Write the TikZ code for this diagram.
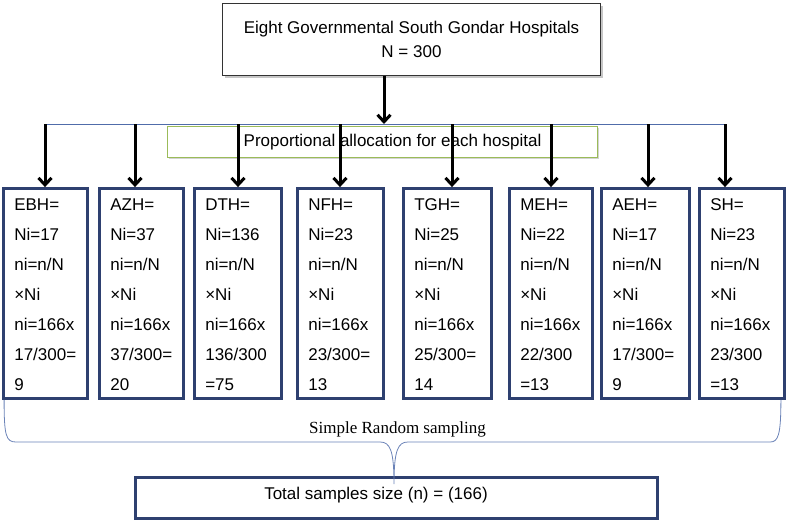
\documentclass[tikz,border=0pt]{standalone}
\usepackage{fontspec}
\setmainfont{Liberation Sans}
\newfontfamily\timesfont{Liberation Serif}
\usepackage{tikz}
\usetikzlibrary{arrows.meta,positioning,shadows}
\definecolor{boxnavy}{RGB}{46,64,112}
\definecolor{barblue}{RGB}{80,108,170}
\definecolor{leafgreen}{RGB}{155,187,89}

\begin{document}
\begin{tikzpicture}[x=1pt, y=-1pt, font=\fontsize{17}{20}\selectfont]
\tikzset{
  head/.style  ={draw=black!80, fill=white, line width=0.8pt, align=center,
                 minimum width=378pt, minimum height=72pt, font=\fontsize{17}{24}\selectfont,
                 drop shadow={shadow xshift=2pt, shadow yshift=-2pt, opacity=.45}},
  alloc/.style ={draw=leafgreen, fill=white, line width=1pt,
                 minimum width=430pt, minimum height=31pt,
                 drop shadow={shadow xshift=1.5pt, shadow yshift=-1.5pt, opacity=.35}},
  hosp/.style  ={draw=boxnavy, line width=2.8pt, minimum height=210pt},
  vals/.style  ={anchor=north west, align=left, inner sep=0pt, font=\fontsize{17}{30}\selectfont},
  sumbox/.style={draw=boxnavy, line width=2.8pt, minimum width=522pt, minimum height=41pt},
  aD/.style={-{Straight Barb[length=7pt,width=13pt]}, line width=3pt},
  bar/.style={draw=barblue, line width=0.9pt},
  brace/.style={draw=barblue!85, line width=0.8pt}
}
\useasboundingbox (0,0) rectangle (787,522);
\node (top)[head] at (411.5,39.5) {Eight Governmental South Gondar Hospitals\\N = 300};
\node (alloc)[alloc] at (382.5,142) {};
\node (alloct) at (392.5,142) {Proportional allocation for each hospital};
% hospital boxes
\node (ebh)[hosp, minimum width=84pt] at (45.5,293.5) {};
\node (azh)[hosp, minimum width=84pt] at (141.5,293.5) {};
\node (dth)[hosp, minimum width=87pt] at (238,293.5) {};
\node (nfh)[hosp, minimum width=86pt] at (340.5,293.5) {};
\node (tgh)[hosp, minimum width=88pt] at (447.5,293.5) {};
\node (meh)[hosp, minimum width=83pt] at (551,293.5) {};
\node (aeh)[hosp, minimum width=88pt] at (645.5,293.5) {};
\node (sh)[hosp, minimum width=85pt] at (742,293.5) {};
\node (ebht)[vals] at ([shift={(12,11)}]ebh.north west) {EBH=\\Ni=17\\ni=n/N\\×Ni\\ni=166x\\17/300=\\9};
\node (azht)[vals] at ([shift={(12,11)}]azh.north west) {AZH=\\Ni=37\\ni=n/N\\×Ni\\ni=166x\\37/300=\\20};
\node (dtht)[vals] at ([shift={(12,11)}]dth.north west) {DTH=\\Ni=136\\ni=n/N\\×Ni\\ni=166x\\136/300\\=75};
\node (nfht)[vals] at ([shift={(12,11)}]nfh.north west) {NFH=\\Ni=23\\ni=n/N\\×Ni\\ni=166x\\23/300=\\13};
\node (tght)[vals] at ([shift={(12,11)}]tgh.north west) {TGH=\\Ni=25\\ni=n/N\\×Ni\\ni=166x\\25/300=\\14};
\node (meht)[vals] at ([shift={(12,11)}]meh.north west) {MEH=\\Ni=22\\ni=n/N\\×Ni\\ni=166x\\22/300\\=13};
\node (aeht)[vals] at ([shift={(12,11)}]aeh.north west) {AEH=\\Ni=17\\ni=n/N\\×Ni\\ni=166x\\17/300=\\9};
\node (sht)[vals] at ([shift={(12,11)}]sh.north west) {SH=\\Ni=23\\ni=n/N\\×Ni\\ni=166x\\23/300\\=13};
\node (total)[sumbox] at (396.5,498) {};
\node (totalt) at (376,495) {Total samples size (n) = (166)};
% allocation bar and arrows
\coordinate (b0) at (384,124);
\coordinate (b1) at (45,124);  \coordinate (b2) at (135,124);
\coordinate (b3) at (238,124); \coordinate (b4) at (340,124);
\coordinate (b5) at (452,124); \coordinate (b6) at (551,124);
\coordinate (b7) at (648,124); \coordinate (b8) at (725,124);
\draw[bar] (b1) -- (b8);
\draw[aD] (b0 |- top.south) -- (b0);
\foreach \b/\h in {b1/ebh,b2/azh,b3/dth,b4/nfh,b5/tgh,b6/meh,b7/aeh,b8/sh}
  \draw[aD] (\b) -- (\b |- \h.north);
% brace
\coordinate (tip) at ([xshift=-2.5pt,yshift=-8pt]total.north);
\draw[brace] ([xshift=2pt]ebh.south west) .. controls +(0,36) and (6,442) .. (16,442) -- (380,442)
  .. controls (390,442) and (394,450) .. (tip)
  .. controls (394,450) and (398,442) .. (408,442) -- (770,442)
  .. controls (778,442) and ([xshift=-5pt]sh.south east |- 0,436) .. ([xshift=-5pt]sh.south east);
\node (srs)[font=\timesfont\fontsize{17}{20}\selectfont] at (397.5,429) {Simple Random sampling};
\end{tikzpicture}
\end{document}
